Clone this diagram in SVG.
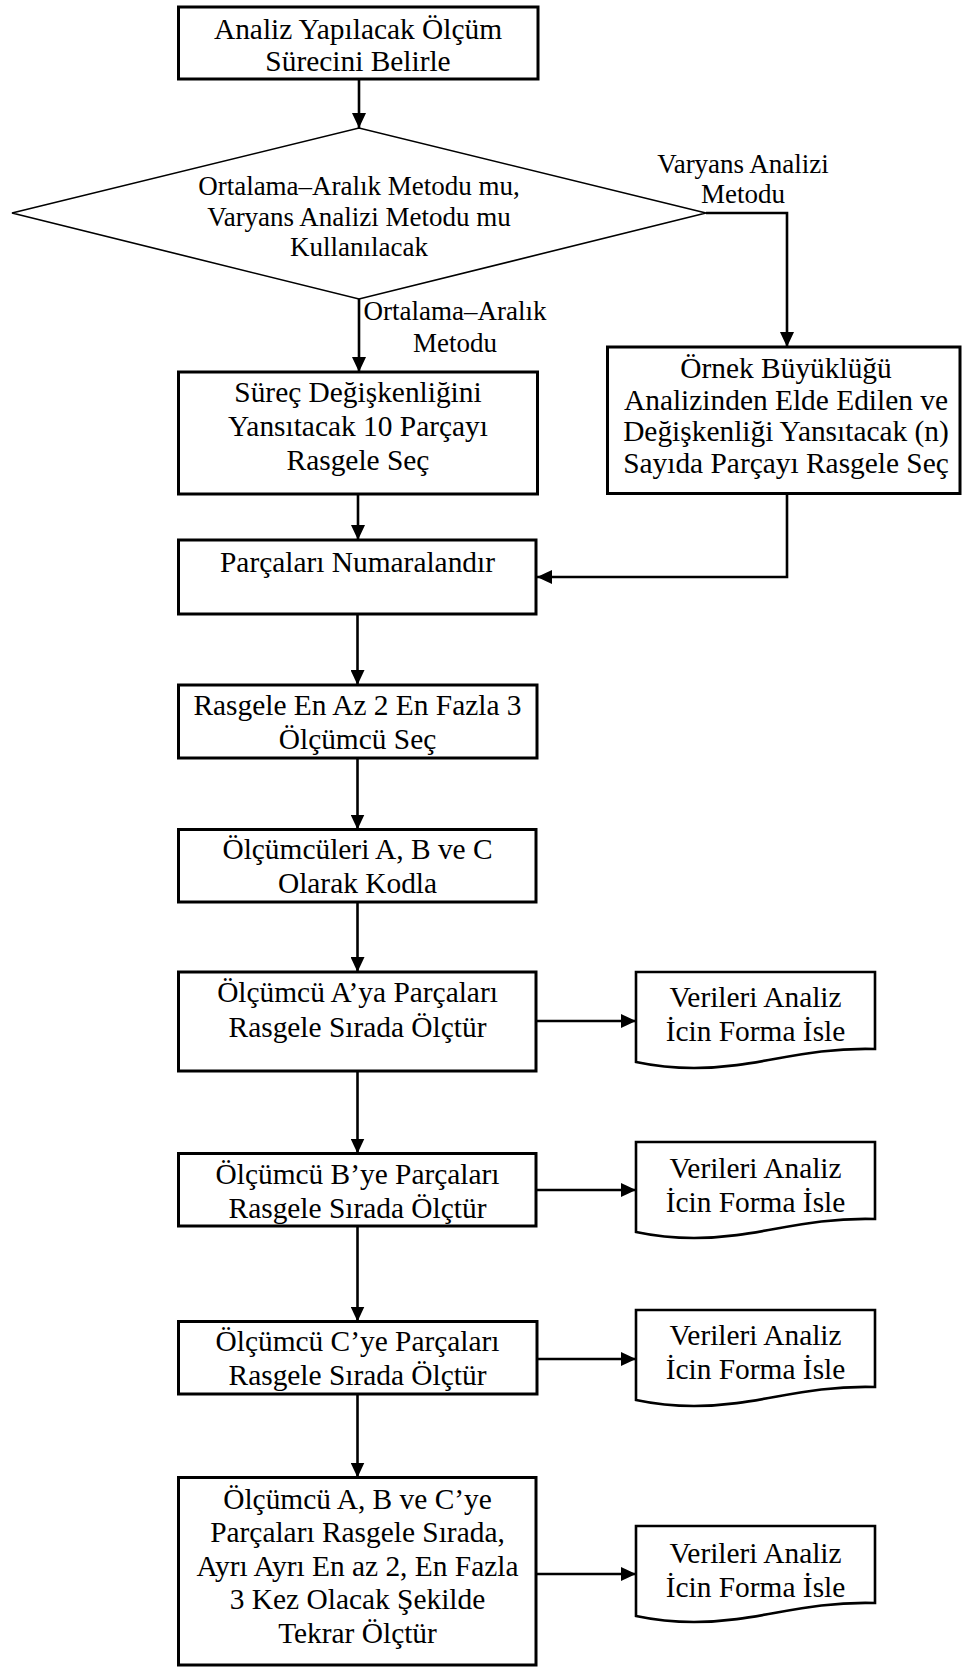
<svg xmlns="http://www.w3.org/2000/svg" xmlns:xlink="http://www.w3.org/1999/xlink" width="962" height="1667" viewBox="0 0 962 1667">
<style>
.box{fill:#fff;stroke:#000;stroke-width:3}
.dia{fill:#fff;stroke:#000;stroke-width:1.6}
.doc{fill:#fff;stroke:#000;stroke-width:2.6}
.t{font-family:"Liberation Serif","Times New Roman",serif;font-size:29.4px;fill:#000;text-anchor:middle}
.s{font-family:"Liberation Serif","Times New Roman",serif;font-size:27px;fill:#000;text-anchor:middle}
.c{fill:none;stroke:#000;stroke-width:2.6}
</style>
<defs>
<marker id="ah" viewBox="0 0 15 14" markerWidth="15" markerHeight="14" refX="15" refY="7" orient="auto" markerUnits="userSpaceOnUse">
<path d="M0,0 L15,7 L0,14 z" fill="#000"/>
</marker>
<path id="docshape" d="M636,0 H875 V77 C800,75 760,96 694,96 C670,96 650,93 636,90 Z"/>
</defs>
<rect width="962" height="1667" fill="#fff"/>

<g id="connectors">
<path class="c" d="M359,79 V128" marker-end="url(#ah)"/>
<path class="c" d="M359,299 V372" marker-end="url(#ah)"/>
<path class="c" d="M706,213 H787 V347" marker-end="url(#ah)"/>
<path class="c" d="M358,494 V540" marker-end="url(#ah)"/>
<path class="c" d="M787,493.5 V577 H537" marker-end="url(#ah)"/>
<path class="c" d="M357.5,614 V685" marker-end="url(#ah)"/>
<path class="c" d="M357.5,758 V829.5" marker-end="url(#ah)"/>
<path class="c" d="M357.5,902 V972" marker-end="url(#ah)"/>
<path class="c" d="M357.5,1071 V1153.5" marker-end="url(#ah)"/>
<path class="c" d="M357.5,1226 V1321.5" marker-end="url(#ah)"/>
<path class="c" d="M357.5,1394 V1477.5" marker-end="url(#ah)"/>
<path class="c" d="M536,1021 H636" marker-end="url(#ah)"/>
<path class="c" d="M536,1190 H636" marker-end="url(#ah)"/>
<path class="c" d="M537,1359 H636" marker-end="url(#ah)"/>
<path class="c" d="M536,1574 H636" marker-end="url(#ah)"/>
<text class="s" x="743" y="173">Varyans Analizi</text>
<text class="s" x="743" y="203">Metodu</text>
<text class="s" x="455" y="320">Ortalama–Aralık</text>
<text class="s" x="455" y="351.5">Metodu</text>
</g>

<g id="n_start">
<rect class="box" x="178.5" y="7" width="359.5" height="72"/>
<text class="t" x="358" y="38.5">Analiz Yapılacak Ölçüm</text>
<text class="t" x="358" y="71">Sürecini Belirle</text>
</g>

<g id="n_decision">
<polygon class="dia" points="12,213 359,128 706,213 359,299"/>
<text class="s" x="359" y="195">Ortalama–Aralık Metodu mu,</text>
<text class="s" x="359" y="226">Varyans Analizi Metodu mu</text>
<text class="s" x="359" y="256">Kullanılacak</text>
</g>

<g id="n_surec">
<rect class="box" x="178.5" y="372" width="359" height="122"/>
<text class="t" x="358" y="402">Süreç Değişkenliğini</text>
<text class="t" x="358" y="436">Yansıtacak 10 Parçayı</text>
<text class="t" x="358" y="469.5">Rasgele Seç</text>
</g>

<g id="n_ornek">
<rect class="box" x="607.5" y="347" width="352.5" height="146.5"/>
<text class="t" x="786" y="378">Örnek Büyüklüğü</text>
<text class="t" x="786" y="409.5">Analizinden Elde Edilen ve</text>
<text class="t" x="786" y="441">Değişkenliği Yansıtacak (n)</text>
<text class="t" x="786" y="472.5">Sayıda Parçayı Rasgele Seç</text>
</g>

<g id="n_numara">
<rect class="box" x="178.5" y="540" width="357.5" height="74"/>
<text class="t" x="357.5" y="571.5">Parçaları Numaralandır</text>
</g>

<g id="n_olcumcu_sec">
<rect class="box" x="178.5" y="685" width="358.5" height="73"/>
<text class="t" x="357.5" y="715">Rasgele En Az 2 En Fazla 3</text>
<text class="t" x="357.5" y="749">Ölçümcü Seç</text>
</g>

<g id="n_kodla">
<rect class="box" x="178.5" y="829.5" width="357.5" height="72.5"/>
<text class="t" x="357.5" y="859">Ölçümcüleri A, B ve C</text>
<text class="t" x="357.5" y="893">Olarak Kodla</text>
</g>

<g id="n_a">
<rect class="box" x="178.5" y="972" width="357.5" height="99"/>
<text class="t" x="357.5" y="1002">Ölçümcü A’ya Parçaları</text>
<text class="t" x="357.5" y="1036.5">Rasgele Sırada Ölçtür</text>
</g>

<g id="n_b">
<rect class="box" x="178.5" y="1153.5" width="357.5" height="72.5"/>
<text class="t" x="357.5" y="1183.5">Ölçümcü B’ye Parçaları</text>
<text class="t" x="357.5" y="1217.5">Rasgele Sırada Ölçtür</text>
</g>

<g id="n_c">
<rect class="box" x="178.5" y="1321.5" width="358.5" height="72.5"/>
<text class="t" x="357.5" y="1351">Ölçümcü C’ye Parçaları</text>
<text class="t" x="357.5" y="1385">Rasgele Sırada Ölçtür</text>
</g>

<g id="n_tekrar">
<rect class="box" x="178.5" y="1477.5" width="357.5" height="187.5"/>
<text class="t" x="357.5" y="1508.5">Ölçümcü A, B ve C’ye</text>
<text class="t" x="357.5" y="1542">Parçaları Rasgele Sırada,</text>
<text class="t" x="357.5" y="1575.5">Ayrı Ayrı En az 2, En Fazla</text>
<text class="t" x="357.5" y="1609">3 Kez Olacak Şekilde</text>
<text class="t" x="357.5" y="1642.5">Tekrar Ölçtür</text>
</g>

<g id="n_doc1">
<use xlink:href="#docshape" class="doc" y="972"/>
<text class="t" x="755.5" y="1007">Verileri Analiz</text>
<text class="t" x="755.5" y="1041">İcin Forma İsle</text>
</g>

<g id="n_doc2">
<use xlink:href="#docshape" class="doc" y="1142"/>
<text class="t" x="755.5" y="1178">Verileri Analiz</text>
<text class="t" x="755.5" y="1212">İcin Forma İsle</text>
</g>

<g id="n_doc3">
<use xlink:href="#docshape" class="doc" y="1310"/>
<text class="t" x="755.5" y="1345">Verileri Analiz</text>
<text class="t" x="755.5" y="1379">İcin Forma İsle</text>
</g>

<g id="n_doc4">
<use xlink:href="#docshape" class="doc" y="1526"/>
<text class="t" x="755.5" y="1563">Verileri Analiz</text>
<text class="t" x="755.5" y="1597">İcin Forma İsle</text>
</g>
</svg>
